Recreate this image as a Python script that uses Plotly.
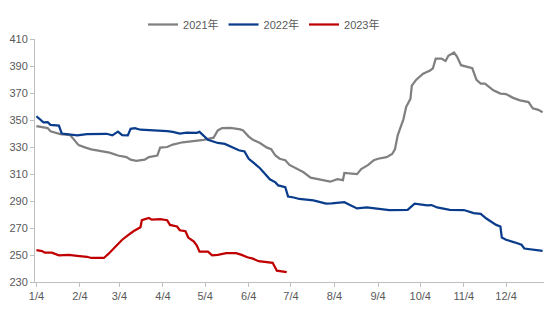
import plotly.graph_objects as go

YEAR = "2021"

# 2021年 (gray)
d2021 = ["01-04","01-12","01-14","01-21","01-28","01-30","02-03","02-08","02-12","02-18","02-25",
         "03-03","03-09","03-12","03-16","03-22","03-25","03-31","04-02","04-07","04-11","04-18","04-26",
         "05-03","05-10","05-13","05-16","05-22","05-29","05-31","06-04","06-07","06-12","06-17","06-20",
         "06-23","06-26","06-30","07-03","07-08","07-13","07-18","07-22","07-27","08-01","08-06","08-10",
         "08-11","08-16","08-20","08-23","08-28","09-01","09-04","09-10","09-14","09-16","09-18","09-22",
         "09-24","09-27","09-28","10-01","10-06","10-11","10-13","10-15","10-19","10-22","10-24","10-28",
         "10-30","11-02","11-05","11-10","11-13","11-16","11-19","11-25","11-30","12-04","12-09","12-14",
         "12-20","12-23","12-27","12-30"]
v2021 = [345.5,344,341.6,339.5,338.8,336.5,331.4,329.5,328.3,327.1,325.8,
         323.7,322.5,320.6,319.7,320.6,322.5,323.7,329.5,330,331.8,333.5,334.6,
         335.3,336.9,342.3,344,344.2,343,342.3,337.7,335.3,333,329.5,328.3,
         323.7,321.3,320.2,316.7,314.3,311.3,307.3,306.6,305.4,304.3,306.1,305.4,
         310.8,310.3,309.9,313.6,316.7,320.2,321.3,322.5,324.8,328.3,338.8,350.5,
         359.8,365.7,375.5,379.7,384.3,386.7,388.3,395.5,395.5,393.7,397.6,400,
         397.2,390.6,389.7,388.3,379.7,376.9,376.9,372,369.6,369.2,366.4,364.5,
         363.3,358.7,357.5,355.8]

# 2022年 (blue)
d2022 = ["01-04","01-08","01-09","01-12","01-14","01-20","01-22","02-02","02-09","02-23","02-27",
         "03-03","03-06","03-10","03-12","03-15","03-19","04-07","04-11","04-16","04-21","04-28","04-30",
         "05-06","05-13","05-18","05-23","05-28","06-01","06-04","06-08","06-12","06-16","06-19","06-23",
         "06-25","06-30","07-02","07-06","07-10","07-20","07-23","07-29","08-02","08-08","08-11","08-15",
         "08-20","08-27","09-03","09-12","09-25","09-30","10-09","10-12","10-16","10-25","11-04","11-11",
         "11-16","11-20","11-27","11-30","12-01","12-04","12-10","12-15","12-17","12-23","12-30"]
v2022 = [352.8,349.3,348.2,348.4,346.4,345.8,340,338.6,339.6,339.8,338.6,
         341.4,338.8,338.6,343.5,344,342.8,341.7,341.2,340,340.7,340.5,341.2,
         335.3,333,332.3,330,327.6,326.7,321.3,317.8,314.3,309.7,306.1,303.8,
         301.5,300.3,293.3,292.6,291.5,290.5,289.8,288,288.2,288.9,289.1,287.1,
         284.5,285.2,284.2,283.3,283.5,288,286.8,287,285.2,283.5,283.3,281,
         280.5,277,272.3,271.1,262.9,261.3,259.4,257.6,254.8,253.8,253.1]

# 2023年 (red)
d2023 = ["01-04","01-08","01-10","01-15","01-20","01-27","02-02","02-09","02-12","02-21","02-24",
         "02-28","03-03","03-06","03-10","03-14","03-19","03-20","03-25","03-27","04-02","04-07","04-09",
         "04-14","04-16","04-20","04-22","04-26","04-28","04-30","05-06","05-09","05-13","05-19","05-26",
         "05-30","06-03","06-07","06-11","06-18","06-21","06-24","06-29","07-01"]
v2023 = [253.6,252.9,251.7,251.7,249.7,250.1,249.4,248.7,247.8,247.8,250.6,
         254.8,257.6,261.3,264.6,267.6,270.6,275.8,277.4,276.2,276.5,275.8,272.3,
         271.1,268.3,267.6,262.9,259.9,257.1,252.5,252.5,249.7,250.1,251.3,251.3,
         250.1,248.3,247.3,245.4,244.9,244.2,238.4,237.9,237.3]

tick_labels = ["1/4","2/4","3/4","4/4","5/4","6/4","7/4","8/4","9/4","10/4","11/4","12/4"]
tick_dates = [f"{YEAR}-{m:02d}-04" for m in range(1, 13)]

series = [("2021年", d2021, v2021, "#808080"),
          ("2022年", d2022, v2022, "#0a3c8c"),
          ("2023年", d2023, v2023, "#c00000")]

FONT = "Liberation Sans, Noto Sans CJK SC, sans-serif"

fig = go.Figure()
for name, d, v, c in series:
    fig.add_trace(go.Scatter(x=[f"{YEAR}-{s}" for s in d], y=v, mode="lines", name=name,
                             line=dict(color=c, width=2.25)))

fig.update_layout(
    width=554, height=316,
    margin=dict(l=35, r=10, t=25, b=34),
    plot_bgcolor="white", paper_bgcolor="white",
    font=dict(family=FONT, size=11, color="#595959"),
    showlegend=True,
    legend=dict(orientation="h", x=0.45, xanchor="center", y=1.0, yanchor="bottom",
                font=dict(size=11, color="#595959"), itemwidth=30, tracegroupgap=0,
                bgcolor="rgba(0,0,0,0)"),
    xaxis=dict(type="date", range=[f"{YEAR}-01-03", f"{YEAR}-12-31"],
               tickvals=tick_dates, ticktext=tick_labels, showgrid=False,
               showline=True, linecolor="#bfbfbf", linewidth=1,
               ticks="outside", ticklen=4, tickcolor="#bfbfbf", zeroline=False),
    yaxis=dict(range=[230, 410], dtick=20, tick0=230, showgrid=False,
               showline=True, linecolor="#bfbfbf", linewidth=1,
               ticks="outside", ticklen=4, tickcolor="#bfbfbf", zeroline=False),
)

fig.write_html("out.html")
